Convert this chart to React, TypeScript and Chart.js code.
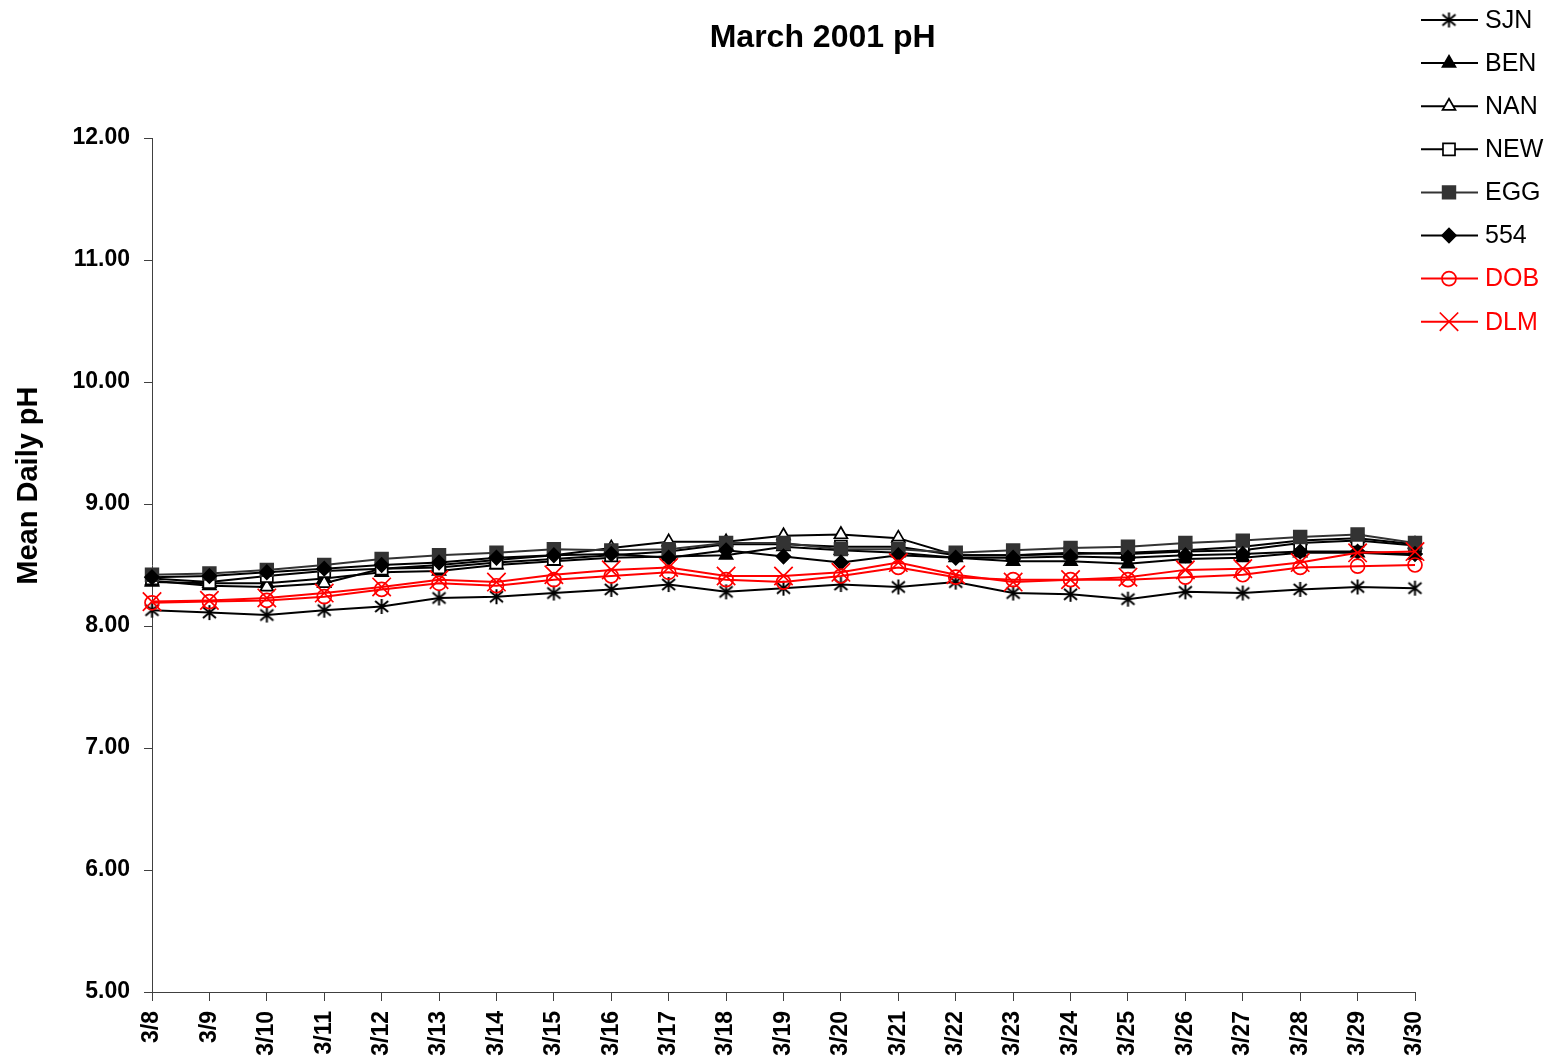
import React, { useEffect, useRef } from 'react';
import { Chart, registerables } from 'chart.js';
import { drawPoint } from 'chart.js/helpers';

Chart.register(...registerables);

const FONT = '"Liberation Sans", Arial, Helvetica, sans-serif';

const dates = ['3/8', '3/9', '3/10', '3/11', '3/12', '3/13', '3/14', '3/15', '3/16', '3/17', '3/18', '3/19', '3/20', '3/21', '3/22', '3/23', '3/24', '3/25', '3/26', '3/27', '3/28', '3/29', '3/30'];

const SJN = [8.13, 8.11, 8.09, 8.13, 8.16, 8.23, 8.24, 8.27, 8.30, 8.34, 8.28, 8.31, 8.34, 8.32, 8.36, 8.27, 8.26, 8.22, 8.28, 8.27, 8.30, 8.32, 8.31];
const BEN = [8.36, 8.35, 8.35, 8.39, 8.44, 8.45, 8.50, 8.53, 8.56, 8.57, 8.58, 8.65, 8.62, 8.60, 8.56, 8.53, 8.53, 8.51, 8.55, 8.56, 8.60, 8.60, 8.58];
const NAN = [8.37, 8.33, 8.32, 8.35, 8.47, 8.50, 8.54, 8.58, 8.64, 8.69, 8.69, 8.74, 8.75, 8.72, 8.58, 8.58, 8.59, 8.60, 8.62, 8.65, 8.70, 8.72, 8.67];
const NEW = [8.39, 8.36, 8.41, 8.45, 8.47, 8.48, 8.52, 8.55, 8.58, 8.61, 8.67, 8.67, 8.65, 8.65, 8.58, 8.58, 8.60, 8.59, 8.61, 8.62, 8.68, 8.70, 8.66];
const EGG = [8.42, 8.43, 8.46, 8.50, 8.55, 8.58, 8.60, 8.63, 8.62, 8.63, 8.68, 8.68, 8.63, 8.63, 8.60, 8.62, 8.64, 8.65, 8.68, 8.70, 8.73, 8.75, 8.68];
const S554 = [8.40, 8.41, 8.44, 8.47, 8.50, 8.52, 8.56, 8.58, 8.59, 8.56, 8.62, 8.57, 8.52, 8.58, 8.56, 8.56, 8.57, 8.56, 8.58, 8.59, 8.61, 8.61, 8.59];
const DOB = [8.19, 8.20, 8.21, 8.24, 8.30, 8.35, 8.33, 8.38, 8.41, 8.44, 8.38, 8.36, 8.41, 8.48, 8.40, 8.38, 8.38, 8.38, 8.40, 8.42, 8.48, 8.49, 8.50];
const DLM = [8.20, 8.21, 8.23, 8.27, 8.32, 8.38, 8.36, 8.42, 8.46, 8.48, 8.41, 8.41, 8.44, 8.52, 8.42, 8.36, 8.38, 8.40, 8.46, 8.47, 8.52, 8.60, 8.61];

const seriesNames = ['SJN', 'BEN', 'NAN', 'NEW', 'EGG', '554', 'DOB', 'DLM'];
const yTicks = [5, 6, 7, 8, 9, 10, 11, 12];

function makeAsterisk(): HTMLCanvasElement {
  const c = document.createElement('canvas');
  c.width = 17;
  c.height = 17;
  const g = c.getContext('2d') as CanvasRenderingContext2D;
  g.strokeStyle = '#000';
  g.lineWidth = 2;
  g.beginPath();
  g.moveTo(8.5, 1);
  g.lineTo(8.5, 16);
  g.moveTo(2, 3);
  g.lineTo(15, 14);
  g.moveTo(15, 3);
  g.lineTo(2, 14);
  g.stroke();
  return c;
}

const decorPlugin = {
  id: 'decor',
  afterDraw(chart: any) {
    const ctx = chart.ctx as CanvasRenderingContext2D;
    const area = chart.chartArea;
    ctx.save();
    // Title
    ctx.font = `bold 32px ${FONT}`;
    ctx.fillStyle = '#000';
    ctx.textAlign = 'center';
    ctx.textBaseline = 'middle';
    ctx.fillText('March 2001 pH', area.left + (area.right - area.left) * 0.531, 38);
    // Y axis title
    ctx.save();
    ctx.translate(29, area.top + (area.bottom - area.top) * 0.407);
    ctx.rotate(-Math.PI / 2);
    ctx.font = `bold 29px ${FONT}`;
    ctx.fillText('Mean Daily pH', 0, 0);
    ctx.restore();
    // Legend
    const x0 = area.right + 6;
    chart.data.datasets.forEach((ds: any, i: number) => {
      const y = 20 + i * 43.1;
      ctx.save();
      ctx.strokeStyle = ds.borderColor;
      ctx.lineWidth = 2;
      ctx.beginPath();
      ctx.moveTo(x0, y);
      ctx.lineTo(x0 + 57, y);
      ctx.stroke();
      ctx.fillStyle = ds.pointBackgroundColor;
      ctx.strokeStyle = ds.pointBorderColor;
      ctx.lineWidth = ds.pointBorderWidth;
      drawPoint(ctx, { pointStyle: ds.pointStyle, radius: ds.pointRadius, borderWidth: ds.pointBorderWidth, rotation: 0 } as any, x0 + 28, y);
      ctx.restore();
      ctx.font = `25px ${FONT}`;
      ctx.textAlign = 'left';
      ctx.textBaseline = 'middle';
      ctx.fillStyle = ds.labelColor;
      ctx.fillText(ds.label, x0 + 64, y + 1);
    });
    ctx.restore();
  },
};

export default function App() {
  const ref = useRef<HTMLCanvasElement | null>(null);

  useEffect(() => {
    if (!ref.current) return;
    const asterisk = makeAsterisk();
    const values = [SJN, BEN, NAN, NEW, EGG, S554, DOB, DLM];
    const styles: any[] = [
      { pointStyle: asterisk, radius: 8, line: '#000', fill: '#000', stroke: '#000', text: '#000' },
      { pointStyle: 'triangle', radius: 7.5, line: '#000', fill: '#000', stroke: '#000', text: '#000' },
      { pointStyle: 'triangle', radius: 7.5, line: '#000', fill: '#fff', stroke: '#000', text: '#000' },
      { pointStyle: 'rect', radius: 8.5, line: '#000', fill: '#fff', stroke: '#000', text: '#000' },
      { pointStyle: 'rect', radius: 9, line: '#333333', fill: '#333333', stroke: '#333333', text: '#000' },
      { pointStyle: 'rectRot', radius: 7, line: '#000', fill: '#000', stroke: '#000', text: '#000' },
      { pointStyle: 'circle', radius: 7, line: '#ff0000', fill: 'rgba(0,0,0,0)', stroke: '#ff0000', text: '#ff0000' },
      { pointStyle: 'crossRot', radius: 13, line: '#ff0000', fill: '#ff0000', stroke: '#ff0000', text: '#ff0000' },
    ];
    const datasets = seriesNames.map((name, i) => ({
      label: name,
      data: values[i],
      borderColor: styles[i].line,
      backgroundColor: styles[i].fill,
      borderWidth: 2,
      pointStyle: styles[i].pointStyle,
      pointRadius: styles[i].radius,
      pointBackgroundColor: styles[i].fill,
      pointBorderColor: styles[i].stroke,
      pointBorderWidth: 1.7,
      labelColor: styles[i].text,
      tension: 0,
      fill: false,
      order: seriesNames.length - i,
    }));

    const chart = new Chart(ref.current, {
      type: 'line',
      data: { labels: dates, datasets: datasets as any },
      options: {
        responsive: false,
        animation: false,
        devicePixelRatio: 1,
        layout: { padding: { top: 138, right: 134, bottom: 0, left: 0 } },
        plugins: {
          legend: { display: false },
          title: { display: false },
          tooltip: { enabled: false },
        },
        scales: {
          x: {
            type: 'category',
            offset: false,
            grid: { display: true, drawOnChartArea: false, drawTicks: true, tickLength: 9, color: '#404040', offset: false },
            border: { display: true, color: '#404040', width: 1 },
            ticks: {
              autoSkip: false,
              minRotation: 90,
              maxRotation: 90,
              padding: 10,
              color: '#000',
              font: { family: FONT, size: 23, weight: 'bold' },
            },
            afterFit: (s: any) => { s.height = 70; },
          },
          y: {
            type: 'linear',
            min: 5,
            max: 12,
            afterBuildTicks: (s: any) => { s.ticks = yTicks.map((v) => ({ value: v })); },
            ticks: {
              callback: (v: any) => Number(v).toFixed(2),
              padding: 14,
              color: '#000',
              font: { family: FONT, size: 23, weight: 'bold' },
            },
            grid: { display: true, drawOnChartArea: false, drawTicks: true, tickLength: 8, color: '#404040' },
            border: { display: true, color: '#404040', width: 1 },
            afterFit: (s: any) => { s.width = 152; },
          },
        },
      } as any,
      plugins: [decorPlugin],
    });
    return () => chart.destroy();
  }, []);

  return (
    <div style={{ position: 'absolute', left: 0, top: 0, width: 1549, height: 1062, background: '#fff' }}>
      <canvas ref={ref} width={1549} height={1062} style={{ display: 'block' }} />
    </div>
  );
}
